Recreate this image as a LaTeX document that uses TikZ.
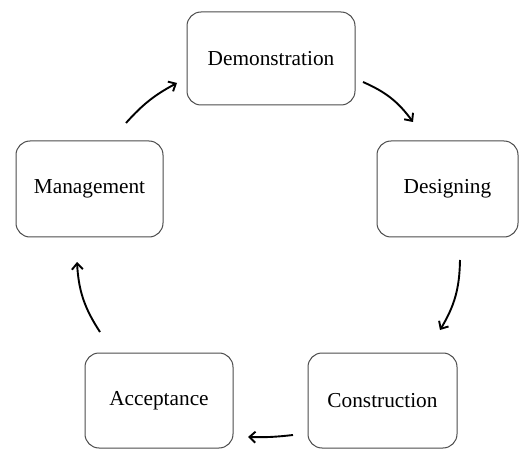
\documentclass[tikz,border=0pt]{standalone}
\usepackage{fontspec}
\setmainfont{Liberation Serif}
\usetikzlibrary{arrows.meta}
\begin{document}
\begin{tikzpicture}[x=1pt,y=1pt,
  stage/.style={draw=black!70, line width=1pt, rounded corners=14pt, fill=white,
    font=\fontsize{21.3}{24}\selectfont, inner sep=0pt},
  flow/.style={line width=1.9pt, -{Straight Barb[length=6pt,width=11pt,line width=1.9pt]}}]
\useasboundingbox (0,0) rectangle (520,448);
\node[stage, minimum width=168pt, minimum height=93pt] (demo) at (271,389.5) {Demonstration};
\node[stage, minimum width=141pt, minimum height=96pt] (des) at (447.5,259) {Designing};
\node[stage, minimum width=147pt, minimum height=96pt] (man) at (89.5,259) {Management};
\node[stage, minimum width=149pt, minimum height=95pt] (con) at (382.5,47.5) {Construction};
\node[stage, minimum width=148pt, minimum height=95pt] (acc) at (159,47.5) {Acceptance};
\coordinate (a1s) at (363,366);
\coordinate (a1e) at (413,326);
\coordinate (a2s) at (460,188);
\coordinate (a2e) at (440,118);
\coordinate (a3s) at (293,13);
\coordinate (a3e) at (248,11);
\coordinate (a4s) at (100,116);
\coordinate (a4e) at (77,186);
\coordinate (a5s) at (126,325);
\coordinate (a5e) at (177,365);
\draw[flow] (a1s) to[bend left=15] (a1e);
\draw[flow] (a2s) to[bend left=15] (a2e);
\draw[flow] (a3s) to[bend left=4] (a3e);
\draw[flow] (a4s) to[bend left=15] (a4e);
\draw[flow] (a5s) to[bend left=10] (a5e);
\end{tikzpicture}
\end{document}
